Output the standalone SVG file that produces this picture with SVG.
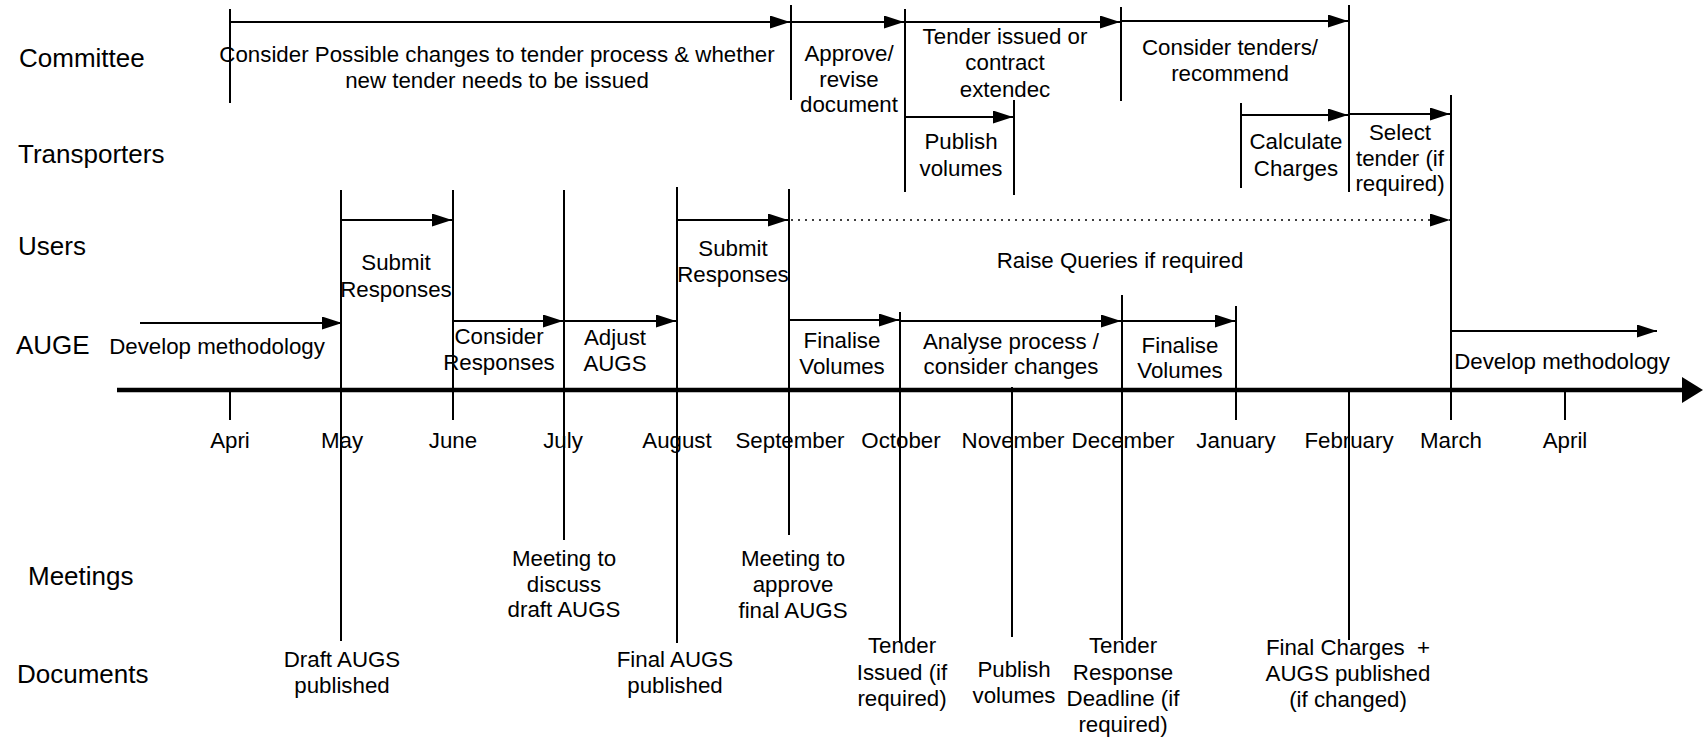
<svg xmlns="http://www.w3.org/2000/svg" width="1704" height="740" viewBox="0 0 1704 740">
<style>
text{font-family:"Liberation Sans",Arial,sans-serif;fill:#000}
.t{font-size:22.3px;text-anchor:middle}
.lab{font-size:26px}
.m{font-size:22.3px;text-anchor:middle}
.v{stroke:#000;stroke-width:2;fill:none}
.a{stroke:#000;stroke-width:2;fill:none;marker-end:url(#ah)}
.d{stroke:#000;stroke-width:1.5;stroke-dasharray:2 5;fill:none;marker-end:url(#ah)}
.ax{stroke:#000;stroke-width:4.5;fill:none}
</style>
<defs>
<marker id="ah" markerUnits="userSpaceOnUse" markerWidth="20" markerHeight="13" refX="20" refY="6.5" orient="auto"><path d="M0,0 L20,6.5 L0,13 z" fill="#000"/></marker>
</defs>
<rect width="1704" height="740" fill="#fff"/>

<g id="row-labels">
<text class="lab" x="19" y="67">Committee</text>
<text class="lab" x="18" y="163">Transporters</text>
<text class="lab" x="18" y="255">Users</text>
<text class="lab" x="16" y="354">AUGE</text>
<text class="lab" x="28" y="585">Meetings</text>
<text class="lab" x="17" y="683">Documents</text>
</g>

<g id="connectors">
<line class="ax" x1="117" y1="390" x2="1684" y2="390"/>
<polygon points="1682,377 1703,390 1682,403" fill="#000"/>
<line class="v" x1="230" y1="390" x2="230" y2="420"/>
<line class="v" x1="1565" y1="390" x2="1565" y2="420"/>
<line class="v" x1="230" y1="9" x2="230" y2="103"/>
<line class="v" x1="791" y1="5" x2="791" y2="100"/>
<line class="v" x1="905" y1="9" x2="905" y2="192"/>
<line class="v" x1="1121" y1="7" x2="1121" y2="101"/>
<line class="v" x1="1349" y1="5" x2="1349" y2="192" stroke-width="2.5"/>
<line class="v" x1="1014" y1="100" x2="1014" y2="195"/>
<line class="v" x1="1241" y1="103" x2="1241" y2="188"/>
<line class="v" x1="1451" y1="95" x2="1451" y2="420" stroke-width="2.5"/>
<line class="v" x1="341" y1="190" x2="341" y2="641"/>
<line class="v" x1="453" y1="190" x2="453" y2="420"/>
<line class="v" x1="564" y1="190" x2="564" y2="540"/>
<line class="v" x1="677" y1="187" x2="677" y2="643"/>
<line class="v" x1="789" y1="189" x2="789" y2="535"/>
<line class="v" x1="900" y1="312" x2="900" y2="643"/>
<line class="v" x1="1012" y1="387" x2="1012" y2="637"/>
<line class="v" x1="1122" y1="295" x2="1122" y2="640"/>
<line class="v" x1="1236" y1="306" x2="1236" y2="420"/>
<line class="v" x1="1349" y1="389" x2="1349" y2="640" stroke-width="2.5"/>
<line class="a" x1="230" y1="22" x2="790" y2="22"/>
<line class="a" x1="791" y1="22" x2="904" y2="22"/>
<line class="a" x1="905" y1="22" x2="1120" y2="22"/>
<line class="a" x1="1121" y1="21" x2="1348" y2="21"/>
<line class="a" x1="905" y1="117" x2="1013" y2="117"/>
<line class="a" x1="1241" y1="115" x2="1348" y2="115"/>
<line class="a" x1="1349" y1="114" x2="1450" y2="114"/>
<line class="a" x1="341" y1="220" x2="452" y2="220"/>
<line class="a" x1="677" y1="220" x2="788" y2="220"/>
<line class="d" x1="791" y1="220" x2="1450" y2="220"/>
<line class="a" x1="140" y1="323" x2="342" y2="323"/>
<line class="a" x1="453" y1="321" x2="563" y2="321"/>
<line class="a" x1="564" y1="321" x2="676" y2="321"/>
<line class="a" x1="789" y1="320" x2="899" y2="320"/>
<line class="a" x1="900" y1="321" x2="1121" y2="321"/>
<line class="a" x1="1122" y1="321" x2="1235" y2="321"/>
<line class="a" x1="1451" y1="331" x2="1657" y2="331"/>
</g>

<g id="months">
<text class="m" x="230" y="448">Apri</text>
<text class="m" x="342" y="448">May</text>
<text class="m" x="453" y="448">June</text>
<text class="m" x="563" y="448">July</text>
<text class="m" x="677" y="448">August</text>
<text class="m" x="790" y="448">September</text>
<text class="m" x="901" y="448">October</text>
<text class="m" x="1013" y="448">November</text>
<text class="m" x="1123" y="448">December</text>
<text class="m" x="1236" y="448">January</text>
<text class="m" x="1349" y="448">February</text>
<text class="m" x="1451" y="448">March</text>
<text class="m" x="1565" y="448">April</text>
</g>

<g id="committee-consider"><text class="t"><tspan x="497" y="62">Consider Possible changes to tender process &amp; whether</tspan><tspan x="497" y="88">new tender needs to be issued</tspan></text></g>
<g id="committee-approve"><text class="t"><tspan x="849" y="61">Approve/</tspan><tspan x="849" y="87">revise</tspan><tspan x="849" y="112">document</tspan></text></g>
<g id="committee-tender"><text class="t"><tspan x="1005" y="44">Tender issued or</tspan><tspan x="1005" y="70">contract</tspan><tspan x="1005" y="97">extendec</tspan></text></g>
<g id="committee-consider-tenders"><text class="t"><tspan x="1230" y="55">Consider tenders/</tspan><tspan x="1230" y="81">recommend</tspan></text></g>

<g id="transporters-publish"><text class="t"><tspan x="961" y="149">Publish</tspan><tspan x="961" y="176">volumes</tspan></text></g>
<g id="transporters-calculate"><text class="t"><tspan x="1296" y="149">Calculate</tspan><tspan x="1296" y="176">Charges</tspan></text></g>
<g id="transporters-select"><text class="t"><tspan x="1400" y="140">Select</tspan><tspan x="1400" y="166">tender (if</tspan><tspan x="1400" y="191">required)</tspan></text></g>

<g id="users-submit-1"><text class="t"><tspan x="396" y="270">Submit</tspan><tspan x="396" y="297">Responses</tspan></text></g>
<g id="users-submit-2"><text class="t"><tspan x="733" y="256">Submit</tspan><tspan x="733" y="282">Responses</tspan></text></g>
<g id="users-raise"><text class="t" x="1120" y="268">Raise Queries if required</text></g>

<g id="auge-develop-1"><text class="t" x="217" y="354">Develop methodology</text></g>
<g id="auge-consider"><text class="t"><tspan x="499" y="344">Consider</tspan><tspan x="499" y="370">Responses</tspan></text></g>
<g id="auge-adjust"><text class="t"><tspan x="615" y="345">Adjust</tspan><tspan x="615" y="371">AUGS</tspan></text></g>
<g id="auge-finalise-1"><text class="t"><tspan x="842" y="348">Finalise</tspan><tspan x="842" y="374">Volumes</tspan></text></g>
<g id="auge-analyse"><text class="t"><tspan x="1011" y="349">Analyse process /</tspan><tspan x="1011" y="374">consider changes</tspan></text></g>
<g id="auge-finalise-2"><text class="t"><tspan x="1180" y="353">Finalise</tspan><tspan x="1180" y="378">Volumes</tspan></text></g>
<g id="auge-develop-2"><text class="t" x="1562" y="369">Develop methodology</text></g>

<g id="meeting-discuss"><text class="t"><tspan x="564" y="566">Meeting to</tspan><tspan x="564" y="592">discuss</tspan><tspan x="564" y="617">draft AUGS</tspan></text></g>
<g id="meeting-approve"><text class="t"><tspan x="793" y="566">Meeting to</tspan><tspan x="793" y="592">approve</tspan><tspan x="793" y="618">final AUGS</tspan></text></g>

<g id="doc-draft"><text class="t"><tspan x="342" y="667">Draft AUGS</tspan><tspan x="342" y="693">published</tspan></text></g>
<g id="doc-final"><text class="t"><tspan x="675" y="667">Final AUGS</tspan><tspan x="675" y="693">published</tspan></text></g>
<g id="doc-tender"><text class="t"><tspan x="902" y="653">Tender</tspan><tspan x="902" y="680">Issued (if</tspan><tspan x="902" y="706">required)</tspan></text></g>
<g id="doc-publish"><text class="t"><tspan x="1014" y="677">Publish</tspan><tspan x="1014" y="703">volumes</tspan></text></g>
<g id="doc-deadline"><text class="t"><tspan x="1123" y="653">Tender</tspan><tspan x="1123" y="680">Response</tspan><tspan x="1123" y="706">Deadline (if</tspan><tspan x="1123" y="732">required)</tspan></text></g>
<g id="doc-charges"><text class="t"><tspan x="1348" y="655">Final Charges&#160; +</tspan><tspan x="1348" y="681">AUGS published</tspan><tspan x="1348" y="707">(if changed)</tspan></text></g>
</svg>
